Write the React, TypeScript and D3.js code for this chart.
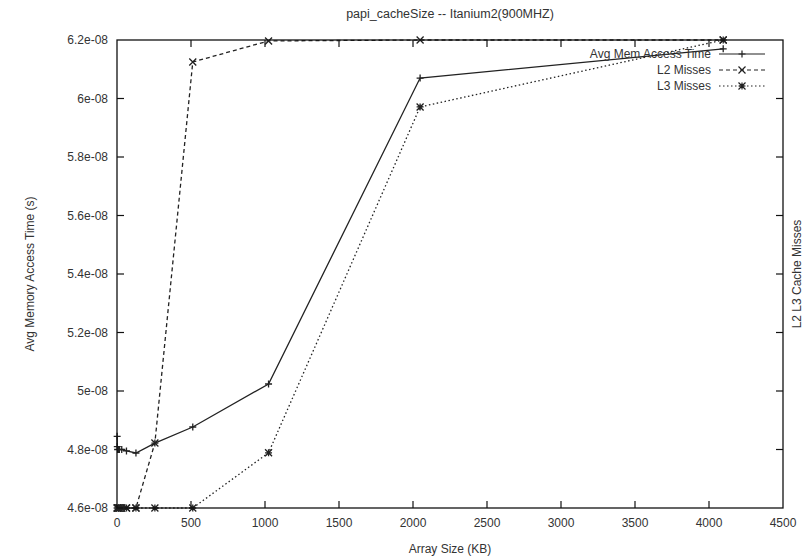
import { useRef, useEffect } from 'react'
import * as d3 from 'd3'

// array sizes in KB
const sizes = [1, 2, 4, 8, 16, 32, 64, 128, 256, 512, 1024, 2048, 4096]
// avg memory access time (s)
const avgTime = [4.845e-8, 4.81e-8, 4.8e-8, 4.8e-8, 4.8e-8, 4.8e-8, 4.795e-8, 4.788e-8, 4.822e-8, 4.877e-8, 5.024e-8, 6.07e-8, 6.17e-8]
// cache misses (relative, right axis has no labels)
const l2Misses = [0, 0, 0, 0, 0, 0, 0, 0, 13.9, 95.3, 99.8, 100, 100]
const l3Misses = [0, 0, 0, 0, 0, 0, 0, 0, 0, 0, 11.8, 85.7, 100]

const xTicks = [0, 500, 1000, 1500, 2000, 2500, 3000, 3500, 4000, 4500]
const yTicks = [4.6e-8, 4.8e-8, 5e-8, 5.2e-8, 5.4e-8, 5.6e-8, 5.8e-8, 6e-8, 6.2e-8]
const yTickLabels = ['4.6e-08', '4.8e-08', '5e-08', '5.2e-08', '5.4e-08', '5.6e-08', '5.8e-08', '6e-08', '6.2e-08']

const legendNames = ['Avg Mem Access Time', 'L2 Misses', 'L3 Misses']

const FONT = '"Liberation Sans", Arial, sans-serif'
const TXT = '#333'

const plusPath = (x: number, y: number, s: number) =>
  `M${x - s},${y}H${x + s}M${x},${y - s}V${y + s}`
const crossPath = (x: number, y: number, s: number) =>
  `M${x - s},${y - s}L${x + s},${y + s}M${x - s},${y + s}L${x + s},${y - s}`
const starPath = (x: number, y: number, s: number) =>
  plusPath(x, y, s) + crossPath(x, y, s)

const App = () => {
  const ref = useRef<SVGSVGElement>(null)

  useEffect(() => {
    const totalWidth = 811,
      totalHeight = 558,
      margin = { left: 117, top: 40, right: 28, bottom: 50 },
      width = totalWidth - margin.left - margin.right,
      height = totalHeight - margin.top - margin.bottom

    const svg = d3.select(ref.current)
    svg.selectAll('*').remove()

    const x = d3.scaleLinear().domain([0, 4500]).range([0, width])
    const y = d3.scaleLinear().domain([4.6e-8, 6.2e-8]).range([height, 0])
    const y2 = d3.scaleLinear().domain([0, 100]).range([height, 0])

    svg.append('rect').attr('width', totalWidth).attr('height', totalHeight).attr('fill', '#fff')

    // title + axis labels
    svg.append('text')
      .attr('x', margin.left + width / 2).attr('y', 18)
      .attr('text-anchor', 'middle')
      .attr('font-family', FONT).attr('font-size', 12.5).attr('fill', TXT)
      .text('papi_cacheSize -- Itanium2(900MHZ)')

    svg.append('text')
      .attr('x', margin.left + width / 2).attr('y', 553)
      .attr('text-anchor', 'middle')
      .attr('font-family', FONT).attr('font-size', 12).attr('fill', TXT)
      .text('Array Size (KB)')

    svg.append('text')
      .attr('transform', `translate(34, ${margin.top + height / 2}) rotate(-90)`)
      .attr('text-anchor', 'middle')
      .attr('font-family', FONT).attr('font-size', 12).attr('fill', TXT)
      .text('Avg Memory Access Time (s)')

    svg.append('text')
      .attr('transform', `translate(801, ${margin.top + height / 2}) rotate(-90)`)
      .attr('text-anchor', 'middle')
      .attr('font-family', FONT).attr('font-size', 12).attr('fill', TXT)
      .text('L2 L3 Cache Misses')

    const plot = svg.append('g')
      .attr('transform', `translate(${margin.left}, ${margin.top})`)

    // ticks (inward, mirrored on top/right)
    const tl = 7
    const ticks = plot.append('g').attr('stroke', '#111').attr('stroke-width', 1.2)
    xTicks.slice(1, -1).forEach(t => {
      ticks.append('line').attr('x1', x(t)).attr('x2', x(t)).attr('y1', height).attr('y2', height - tl)
      ticks.append('line').attr('x1', x(t)).attr('x2', x(t)).attr('y1', 0).attr('y2', tl)
    })
    yTicks.slice(1, -1).forEach(t => {
      ticks.append('line').attr('x1', 0).attr('x2', tl).attr('y1', y(t)).attr('y2', y(t))
      ticks.append('line').attr('x1', width).attr('x2', width - tl).attr('y1', y(t)).attr('y2', y(t))
    })

    plot.append('g').selectAll('text')
      .data(xTicks)
      .enter()
      .append('text')
        .attr('x', d => x(d)).attr('y', height + 19)
        .attr('text-anchor', 'middle')
        .attr('font-family', FONT).attr('font-size', 12).attr('fill', TXT)
        .text(d => String(d))

    plot.append('g').selectAll('text')
      .data(yTicks)
      .enter()
      .append('text')
        .attr('x', -9).attr('y', d => y(d) + 4)
        .attr('text-anchor', 'end')
        .attr('font-family', FONT).attr('font-size', 12).attr('fill', TXT)
        .text((d, i) => yTickLabels[i])

    // series
    const avgData = sizes.map((s, i) => [x(s), y(avgTime[i])] as [number, number])
    const l2Data = sizes.map((s, i) => [x(s), y2(l2Misses[i])] as [number, number])
    const l3Data = sizes.map((s, i) => [x(s), y2(l3Misses[i])] as [number, number])

    const series = [
      { data: avgData, dash: null, marker: plusPath },
      { data: l2Data, dash: '4,3', marker: crossPath },
      { data: l3Data, dash: '1.5,2.5', marker: starPath }
    ]

    const line = d3.line()

    series.forEach(s => {
      plot.append('path')
        .datum(s.data)
        .attr('d', line)
        .attr('fill', 'none')
        .attr('stroke', '#222')
        .attr('stroke-width', 1.3)
        .attr('stroke-dasharray', s.dash)
      plot.append('path')
        .attr('d', s.data.map(p => s.marker(p[0], p[1], 3.5)).join(''))
        .attr('fill', 'none')
        .attr('stroke', '#222')
        .attr('stroke-width', 1.3)
    })

    // legend
    const lgX = width - 72, lgY = 14
    series.forEach((s, i) => {
      const ly = lgY + i * 16
      plot.append('text')
        .attr('x', lgX).attr('y', ly + 4)
        .attr('text-anchor', 'end')
        .attr('font-family', FONT).attr('font-size', 12).attr('fill', TXT)
        .text(legendNames[i])
      plot.append('line')
        .attr('x1', lgX + 8).attr('x2', lgX + 54)
        .attr('y1', ly).attr('y2', ly)
        .attr('stroke', '#222').attr('stroke-width', 1.2)
        .attr('stroke-dasharray', s.dash)
      plot.append('path')
        .attr('d', s.marker(lgX + 31, ly, 3.5))
        .attr('fill', 'none').attr('stroke', '#222').attr('stroke-width', 1.2)
    })

    // border
    plot.append('rect')
      .attr('width', width).attr('height', height)
      .attr('fill', 'none').attr('stroke', '#111').attr('stroke-width', 1.3)
  }, [])

  return (
    <svg ref={ref} width={811} height={558} style={{ position: 'absolute', left: 0, top: 0 }}></svg>
  )
}

export default App
